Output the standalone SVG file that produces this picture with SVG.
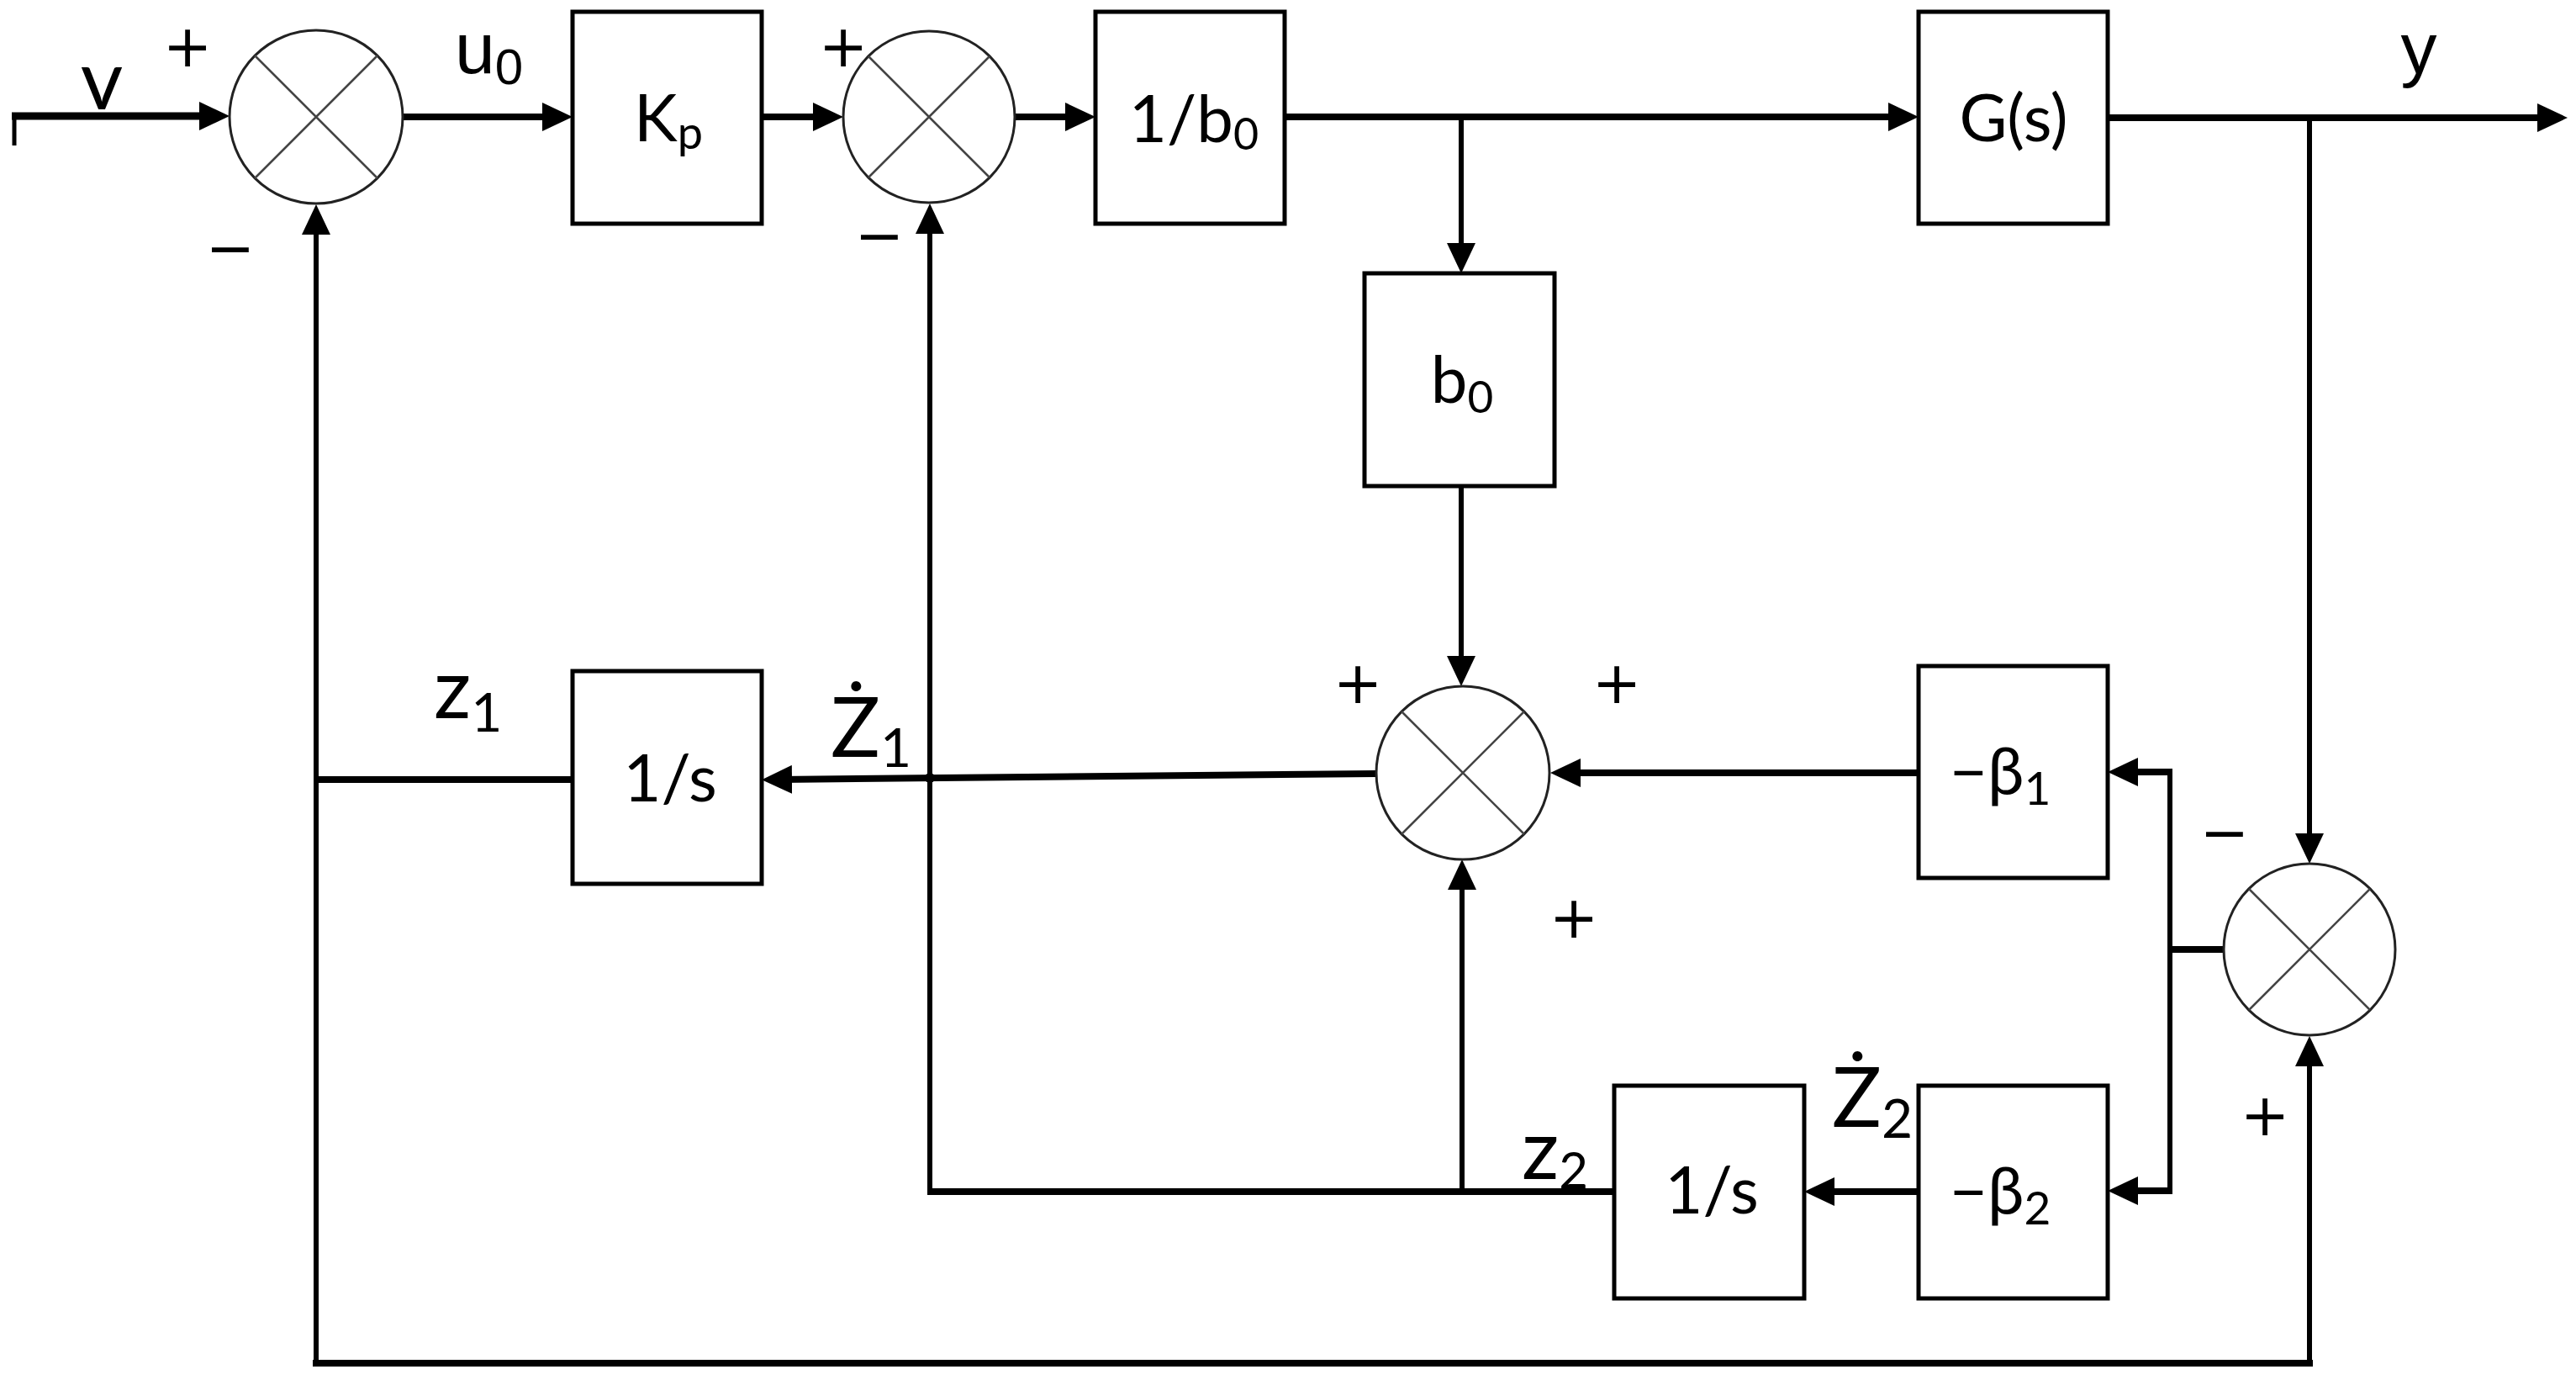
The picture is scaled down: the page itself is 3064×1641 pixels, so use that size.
<svg xmlns="http://www.w3.org/2000/svg" width="3064" height="1641" viewBox="0 0 3064 1641">
<style>
.bx{fill:#fff;stroke:#000;stroke-width:5}
.sm{fill:#fff;stroke:#222;stroke-width:3}
.xl{stroke:#444;stroke-width:2.5;fill:none}
.h{stroke:#000;stroke-width:8;fill:none}
.v{stroke:#000;stroke-width:6;fill:none}
.a{marker-end:url(#ah)}
text{font-family:Lato,"Noto Sans","Liberation Sans",sans-serif;fill:#000}
.lb{font-size:98px}
.tp{font-family:"Liberation Sans",Lato,sans-serif;font-size:86px}
.bt{font-size:78px;text-anchor:middle}
.sg{font-family:"DejaVu Sans","Liberation Sans",sans-serif;font-size:70px;text-anchor:middle}
</style>
<defs>
<marker id="ah" markerUnits="userSpaceOnUse" markerWidth="36" markerHeight="34" viewBox="0 0 36 34" refX="16" refY="17" orient="auto"><path d="M0,0 L36,17 L0,34 Z" fill="#000"/></marker>
</defs>
<rect width="3064" height="1641" fill="#fff"/>
<g id="connectors">
<line class="v" x1="17" y1="136" x2="17" y2="173" style="stroke-width:5"/>
<line class="h a" x1="14" y1="138" x2="253" y2="138" style="stroke-width:9"/>
<line class="h a" x1="479" y1="139" x2="661" y2="139"/>
<line class="h a" x1="906" y1="139" x2="983" y2="139"/>
<line class="h a" x1="1207" y1="139" x2="1283" y2="139"/>
<line class="h a" x1="1528" y1="139" x2="2262" y2="139"/>
<line class="v a" x1="1738" y1="139" x2="1738" y2="305"/>
<line class="h a" x1="2507" y1="140" x2="3034" y2="140"/>
<line class="v a" x1="2747" y1="140" x2="2747" y2="1007"/>
<line class="v a" x1="1738" y1="578" x2="1738" y2="796"/>
<line class="h a" x1="2282" y1="919" x2="1864" y2="919"/>
<line class="h a" x1="1637" y1="920" x2="926" y2="927"/>
<line class="h" x1="681" y1="927" x2="376" y2="927"/>
<line class="v a" x1="376" y1="1625" x2="376" y2="263"/>
<line class="h" x1="372" y1="1621" x2="2751" y2="1621"/>
<line class="v a" x1="2747" y1="1621" x2="2747" y2="1252"/>
<line class="h" x1="1920" y1="1417" x2="1103" y2="1417"/>
<line class="v a" x1="1106" y1="1420" x2="1106" y2="262"/>
<line class="v a" x1="1739" y1="1417" x2="1739" y2="1042"/>
<line class="h a" x1="2282" y1="1417" x2="2166" y2="1417"/>
<line class="h" x1="2645" y1="1129" x2="2581" y2="1129"/>
<line class="v" x1="2581" y1="915" x2="2581" y2="1420"/>
<line class="h a" x1="2584" y1="918" x2="2527" y2="918"/>
<line class="h a" x1="2584" y1="1416" x2="2527" y2="1416"/>
<circle cx="1106" cy="925" r="6" fill="#000"/>
</g>
<g id="sum1">
<circle class="sm" cx="376" cy="139" r="103"/>
<path class="xl" d="M303,66 L449,212 M449,66 L303,212"/>
<text class="sg" x="223" y="79">+</text>
<text class="sg" x="274" y="319">−</text>
</g>
<g id="sum2">
<circle class="sm" cx="1105" cy="139" r="102"/>
<path class="xl" d="M1033,67 L1177,211 M1177,67 L1033,211"/>
<text class="sg" x="1003" y="79">+</text>
<text class="sg" x="1046" y="304">−</text>
</g>
<g id="sum3">
<circle class="sm" cx="1740" cy="919" r="103"/>
<path class="xl" d="M1667,846 L1813,992 M1813,846 L1667,992"/>
<text class="sg" x="1615" y="836">+</text>
<text class="sg" x="1923" y="836">+</text>
<text class="sg" x="1872" y="1115">+</text>
</g>
<g id="sum4">
<circle class="sm" cx="2747" cy="1129" r="102"/>
<path class="xl" d="M2675,1057 L2819,1201 M2819,1057 L2675,1201"/>
<text class="sg" x="2646" y="1014">−</text>
<text class="sg" x="2694" y="1350">+</text>
</g>
<g id="kp">
<rect class="bx" x="681" y="14" width="225" height="252"/>
<text class="bt" x="795" y="168">K<tspan font-size="54" dy="9">p</tspan></text>
</g>
<g id="inv-b0">
<rect class="bx" x="1303" y="14" width="225" height="252"/>
<text class="bt" x="1420" y="169">1/b<tspan font-size="52" dy="9">0</tspan></text>
</g>
<g id="plant">
<rect class="bx" x="2282" y="14" width="225" height="252"/>
<text class="bt" x="2395" y="168" font-size="80">G(s)</text>
</g>
<g id="b0">
<rect class="bx" x="1623" y="325" width="226" height="253"/>
<text class="bt" x="1739" y="479" font-size="80">b<tspan font-size="53" dy="12">0</tspan></text>
</g>
<g id="int1">
<rect class="bx" x="681" y="798" width="225" height="253"/>
<text class="bt" x="797" y="953">1/s</text>
</g>
<g id="beta1">
<rect class="bx" x="2282" y="792" width="225" height="252"/>
<text class="bt" x="2379" y="945" font-size="80">−β<tspan font-size="55" dy="12">1</tspan></text>
</g>
<g id="int2">
<rect class="bx" x="1920" y="1291" width="226" height="253"/>
<text class="bt" x="2036" y="1443">1/s</text>
</g>
<g id="beta2">
<rect class="bx" x="2282" y="1291" width="225" height="253"/>
<text class="bt" x="2379" y="1444" font-size="80">−β<tspan font-size="55" dy="12">2</tspan></text>
</g>
<g id="labels">
<text class="lb" x="121" y="130" text-anchor="middle">v</text>
<text class="tp" x="541" y="87">u<tspan font-size="60" dy="13">0</tspan></text>
<text class="tp" x="2877" y="87" text-anchor="middle">y</text>
<text class="lb" x="516" y="854">z<tspan font-size="64" dy="16">1</tspan></text>
<text class="lb" x="988" y="900">Ż<tspan font-size="64" dy="12">1</tspan></text>
<text class="lb" x="1810" y="1402">z<tspan font-size="60" dy="11">2</tspan></text>
<text class="lb" x="2179" y="1340" font-size="95">Ż<tspan font-size="64" dy="13">2</tspan></text>
</g>
</svg>
